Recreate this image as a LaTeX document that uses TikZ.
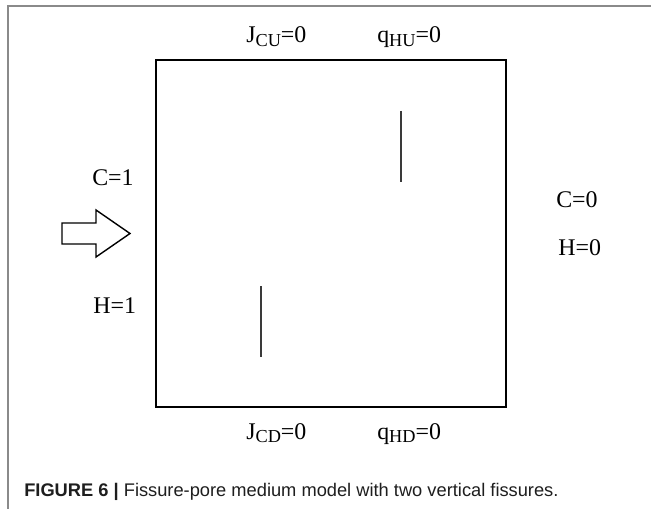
\documentclass[tikz,border=0pt]{standalone}
\usepackage{fontspec}
\setmainfont{Liberation Serif}
\newfontfamily\captionsans{Liberation Sans}
\usepackage{tikz}
\usepackage{xcolor}
\usetikzlibrary{positioning, calc}
\definecolor{cFrame}   {HTML}{8A8A8A}
\definecolor{cFissure} {HTML}{3A3A3A}
\definecolor{cCaption} {HTML}{1E1E1E}

\newcommand{\bcsub}[1]{\raisebox{-0.28ex}{\fontsize{13}{13}\selectfont #1}}

\tikzset{
  bclabel/.style={font=\fontsize{17}{19}\selectfont, anchor=base west, inner sep=0pt},
  fissure/.style={cFissure, line width=1.5pt},
}

\begin{document}
\begin{tikzpicture}[x=0.25mm, y=-0.25mm]
        \useasboundingbox[fill=white] (0, 0) rectangle (651, 509);
        % outer frame (top and left only)
        \draw[cFrame, line width=1.1pt] (8, 509) -- (8, 6) -- (651, 6);
        % domain
        \draw[line width=1.1pt] (156, 60) rectangle (506, 407);
        \coordinate (fuA) at (401, 111);
        \coordinate (fuB) at (401, 182);
        \coordinate (flA) at (261, 286);
        \coordinate (flB) at (261, 357);
        \draw[fissure] (fuA) -- (fuB);
        \draw[fissure] (flA) -- (flB);
        % inflow arrow
        \draw[line width=1pt, line join=miter]
              (62, 223) -- (96, 223) -- (96, 210) -- (130, 233.5)
              -- (96, 257) -- (96, 244) -- (62, 244) -- cycle;
        % boundary conditions
        \node[bclabel] (jcu) at (246, 43)  {J\bcsub{CU}=0};
        \node[bclabel] (qhu) at (377, 43)  {q\bcsub{HU}=0};
        \node[bclabel] (jcd) at (246, 439) {J\bcsub{CD}=0};
        \node[bclabel] (qhd) at (377, 439) {q\bcsub{HD}=0};
        \node[bclabel] (cin) at (92, 185)  {C=1};
        \node[bclabel] (hin) at (93, 313)  {H=1};
        \node[bclabel] (cout) at (556, 207) {C=0};
        \node[bclabel] (hout) at (558, 255) {H=0};
        % caption
        \node[anchor=base west, inner sep=0pt, text=cCaption,
              font=\captionsans\fontsize{13}{15}\selectfont] (cap) at (24, 496)
              {\textbf{FIGURE 6 |} Fissure-pore medium model with two vertical fissures.};
      \end{tikzpicture}
\end{document}
